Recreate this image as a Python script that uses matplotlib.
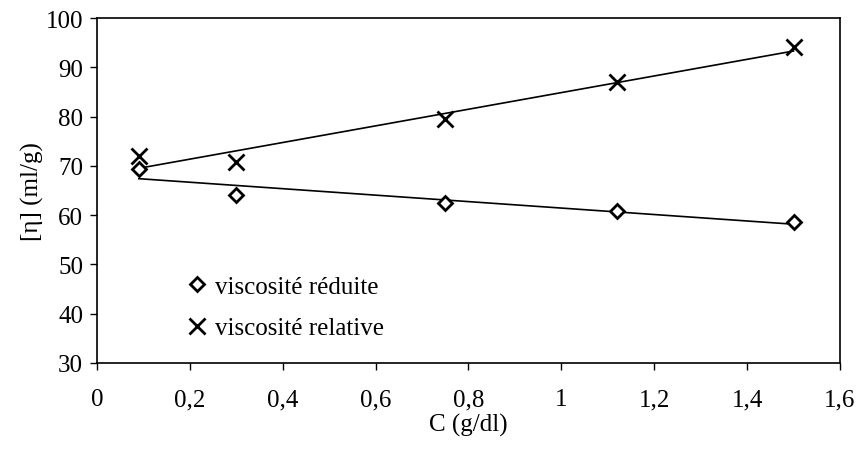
import numpy as np
import matplotlib
matplotlib.use("Agg")
import matplotlib.pyplot as plt

plt.rcParams['font.family'] = ['Liberation Serif', 'DejaVu Serif']

# concentration (g/dl)
conc = [0.09, 0.30, 0.75, 1.12, 1.50]
# intrinsic viscosity estimates (ml/g)
visc_reduite = [69.3, 64.1, 62.5, 60.8, 58.6]
visc_relative = [72.0, 70.8, 79.5, 87.0, 94.1]

x_ticks = [0, 0.2, 0.4, 0.6, 0.8, 1.0, 1.2, 1.4, 1.6]
y_ticks = [30, 40, 50, 60, 70, 80, 90, 100]


def trend(x, y):
    # linear regression like the spreadsheet trend line
    p = np.polyfit(x, y, 1)
    xs = np.array([min(x), max(x)])
    return xs, np.polyval(p, xs)


fig = plt.figure(figsize=(8.59, 4.56), dpi=100)
ax = fig.add_axes([0.1129, 0.2018, 0.8650, 0.7565])

ax.plot(conc, visc_reduite, linestyle='none', marker='D', markersize=7.5,
        markerfacecolor='white', markeredgecolor='black', markeredgewidth=2,
        label='viscosité réduite', zorder=3)
ax.plot(conc, visc_relative, linestyle='none', marker='x', markersize=11,
        color='black', markeredgewidth=2, label='viscosité relative', zorder=3)

xs, ys = trend(conc, visc_reduite)
ax.plot(xs, ys, color='black', linewidth=1.2)
xs, ys = trend(conc, visc_relative)
ax.plot(xs, ys, color='black', linewidth=1.2)

ax.set_xlim(0, 1.6)
ax.set_ylim(30, 100)
ax.set_xticks(x_ticks)
ax.set_xticklabels([('%g' % t).replace('.', ',') for t in x_ticks])
ax.set_yticks(y_ticks)
ax.tick_params(direction='out', length=5, width=1, labelsize=18, pad=5)
ax.tick_params(axis='x', pad=13)
for s in ax.spines.values():
    s.set_linewidth(1.2)

ax.set_xlabel('C (g/dl)', fontsize=18, labelpad=2)
ax.set_ylabel('[η] (ml/g)', fontsize=18, labelpad=1)

ax.legend(loc='upper left', bbox_to_anchor=(0.108, 0.283), frameon=False,
          fontsize=18, handlelength=0.8, handletextpad=0.3, labelspacing=0.76,
          borderaxespad=0)

fig.savefig('out.png', dpi=100)
